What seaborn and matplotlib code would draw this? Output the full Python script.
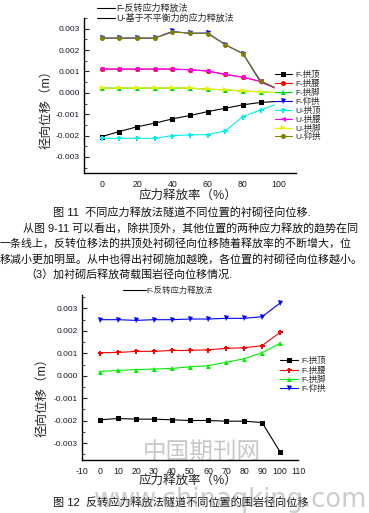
import matplotlib
matplotlib.use('Agg')
import numpy as np
import pandas as pd
import matplotlib.pyplot as plt
import matplotlib.ticker as ticker
from matplotlib.lines import Line2D
import seaborn as sns

# release rate (%)
rate = [0, 10, 20, 30, 40, 50, 60, 70, 80, 90, 100]

# Fig 11: lining radial displacement (m), two release methods
f_crown_11 = [-0.00205, -0.00181, -0.00159, -0.00142, -0.00122, -0.00106, -0.00088, -0.00072, -0.00056, -0.00045, -0.00040]
f_haunch_11 = [0.00111, 0.00111, 0.00111, 0.00111, 0.00111, 0.00108, 0.00102, 0.00086, 0.00073, 0.00053, 0.00017]
f_foot_11 = [0.00022, 0.00022, 0.00022, 0.00022, 0.00022, 0.00022, 0.00017, 0.00014, 0.00008, 0.00005, 0.00000]
f_invert_11 = [0.00256, 0.00256, 0.00256, 0.00256, 0.00287, 0.00278, 0.00280, 0.00225, 0.00183, 0.00050, 0.00017]
u_crown_11 = [-0.00213, -0.00213, -0.00213, -0.00213, -0.00200, -0.00197, -0.00195, -0.00178, -0.00111, -0.00080, -0.00050]
u_haunch_11 = [0.00111, 0.00111, 0.00111, 0.00111, 0.00111, 0.00108, 0.00102, 0.00086, 0.00073, 0.00053, 0.00017]
u_foot_11 = [0.00022, 0.00022, 0.00022, 0.00022, 0.00022, 0.00022, 0.00017, 0.00014, 0.00008, 0.00005, 0.00000]
u_invert_11 = [0.00256, 0.00256, 0.00256, 0.00256, 0.00284, 0.00280, 0.00277, 0.00225, 0.00183, 0.00056, 0.00017]

# Fig 12: surrounding rock radial displacement (m), reverse release method
f_crown_12 = [-0.00196, -0.00190, -0.00193, -0.00193, -0.00196, -0.00199, -0.00199, -0.00202, -0.00202, -0.00208, -0.00338]
f_haunch_12 = [0.00103, 0.00104, 0.00109, 0.00109, 0.00113, 0.00113, 0.00116, 0.00122, 0.00125, 0.00134, 0.00193]
f_foot_12 = [0.00019, 0.00024, 0.00028, 0.00030, 0.00033, 0.00040, 0.00045, 0.00060, 0.00076, 0.00103, 0.00144]
f_invert_12 = [0.00250, 0.00250, 0.00247, 0.00250, 0.00250, 0.00253, 0.00253, 0.00256, 0.00256, 0.00263, 0.00324]

labels_11 = ['F-拱顶', 'F-拱腰', 'F-拱脚', 'F-仰拱', 'U-拱顶', 'U-拱腰', 'U-拱脚', 'U-仰拱']
values_11 = [f_crown_11, f_haunch_11, f_foot_11, f_invert_11, u_crown_11, u_haunch_11, u_foot_11, u_invert_11]
colors_11 = ['#000000', '#ff0000', '#00dd00', '#0000ff', '#00f0f0', '#ff00ff', '#f0f000', '#808000']
markers_11 = ['s', 'o', '^', 'v', 'P', '<', '>', 'o']

labels_12 = ['F-拱顶', 'F-拱腰', 'F-拱脚', 'F-仰拱']
values_12 = [f_crown_12, f_haunch_12, f_foot_12, f_invert_12]
colors_12 = ['#000000', '#ff0000', '#00ee00', '#0000ff']
markers_12 = ['s', 'P', '^', 'v']

methods_11 = ['F-反转应力释放法', 'U-基于不平衡力的应力释放法']
methods_12 = ['F-反转应力释放法']

sns.set_style('white')
plt.rcParams['font.family'] = ['Liberation Sans', 'Noto Sans CJK SC', 'DejaVu Sans']
plt.rcParams['axes.unicode_minus'] = False

W, H = 369, 513
fig = plt.figure(figsize=(W / 100, H / 100), dpi=100)


def fx(px):
    return px / W


def fy(py):
    return 1 - py / H


def draw_panel(ax, labels, values, colors, markers, ylim, xticks):
    df = pd.DataFrame({
        'rate': np.tile(rate, len(labels)),
        'disp': np.concatenate(values),
        'series': np.repeat(labels, len(rate)),
    })
    sns.lineplot(data=df, x='rate', y='disp', hue='series', style='series',
                 hue_order=labels, style_order=labels,
                 palette=dict(zip(labels, colors)), markers=dict(zip(labels, markers)),
                 dashes=False, markersize=3.6, markeredgewidth=0, linewidth=0.8,
                 legend=False, sort=False, ax=ax)
    ax.set_facecolor('none')
    ax.set_xlim(-10, 110)
    ax.set_ylim(*ylim)
    ax.set_xticks(xticks)
    ax.set_yticks(np.arange(-0.003, 0.0031, 0.001))
    ax.yaxis.set_minor_locator(ticker.MultipleLocator(0.0005))
    ax.yaxis.set_major_formatter(ticker.FormatStrFormatter('%.3f'))
    for side in ['top', 'right']:
        ax.spines[side].set_visible(False)
    for side in ['left', 'bottom']:
        ax.spines[side].set_color('black')
        ax.spines[side].set_linewidth(1.0)
    ax.tick_params(axis='y', which='major', direction='in', length=3.5, width=0.8,
                   labelsize=6, pad=3, labelcolor='#1a1a2a', left=True)
    ax.tick_params(axis='y', which='minor', direction='in', length=2, width=0.6, left=True)
    ax.tick_params(axis='x', length=0, labelsize=6.3, pad=5, labelcolor='#1a1a2a')
    ax.set_xlabel('')
    ax.set_ylabel('')
    return ax.get_lines()[:len(labels)]


# ---- Figure 11 ----
ax1 = fig.add_axes([fx(84), fy(173), (296 - 84) / W, (173 - 18) / H])
h1 = draw_panel(ax1, labels_11, values_11, colors_11, markers_11,
                (-0.00375, 0.0035), [0, 20, 40, 60, 80, 100])
ax1.set_ylabel('径向位移（m）', fontsize=9)
ax1.yaxis.set_label_coords(-0.15, 0.43)
ax1.set_xlabel('应力释放率（%）', fontsize=9)
ax1.xaxis.set_label_coords(0.49, -0.105)
leg = ax1.legend(h1, labels_11, loc='upper left', bbox_to_anchor=(fx(275), fy(71)),
                 bbox_transform=fig.transFigure, fontsize=6, frameon=True, borderpad=0,
                 borderaxespad=0, handlelength=2.0, handletextpad=0.4, labelspacing=0.1)
leg.get_frame().set_facecolor('white')
leg.get_frame().set_edgecolor('none')
leg.get_frame().set_alpha(1)
m_handles = [Line2D([], [], color='black', lw=0.8) for _ in methods_11]
fig.legend(m_handles, methods_11, loc='upper left', bbox_to_anchor=(fx(97), fy(4)),
           fontsize=6.5, frameon=False, borderpad=0, borderaxespad=0,
           handlelength=2.0, handletextpad=0.1, labelspacing=0.05)

# ---- caption and paragraph ----
fig.text(fx(53), fy(212), '图 11  不同应力释放法隧道不同位置的衬砌径向位移.', fontsize=8,
         va='center', ha='left', color='#111111')
para = [
    (23, 228, '从图 9-11 可以看出，除拱顶外，其他位置的两种应力释放的趋势在同'),
    (0, 243, '一条线上，反转位移法的拱顶处衬砌径向位移随着释放率的不断增大，位'),
    (0, 259, '移减小更加明显。从中也得出衬砌施加越晚，各位置的衬砌径向位移越小。'),
    (25, 274, '（3）加衬砌后释放荷载围岩径向位移情况.'),
]
for x, y, s in para:
    fig.text(fx(x), fy(y), s, fontsize=7.9, va='center', ha='left', color='#111111')

# ---- Figure 12 ----
ax2 = fig.add_axes([fx(82), fy(460), (298 - 82) / W, (460 - 295) / H])
h2 = draw_panel(ax2, labels_12, values_12, colors_12, markers_12,
                (-0.00375, 0.0036), list(range(-10, 111, 10)))
ax2.set_ylabel('径向位移（m）', fontsize=9)
ax2.yaxis.set_label_coords(-0.155, 0.40)
ax2.set_xlabel('应力释放率（%）', fontsize=9)
ax2.xaxis.set_label_coords(0.49, -0.09)
ax2.legend(h2, labels_12, loc='upper left', bbox_to_anchor=(fx(280), fy(357)),
           bbox_transform=fig.transFigure, fontsize=6, frameon=False, borderpad=0,
           borderaxespad=0, handlelength=2.2, handletextpad=0.4, labelspacing=0.15)
m2 = [Line2D([], [], color='black', lw=0.8)]
fig.legend(m2, methods_12, loc='upper left', bbox_to_anchor=(fx(123), fy(286)),
           fontsize=6, frameon=False, borderpad=0, borderaxespad=0,
           handlelength=2.8, handletextpad=0.05)

fig.text(fx(53), fy(502), '图 12  反转应力释放法隧道不同位置的围岩径向位移', fontsize=8,
         va='center', ha='left', color='#111111')

# watermarks
fig.text(fx(143), fy(452), '中国期刊网', fontsize=17, va='center', ha='left',
         color='#c8c8c8', zorder=-1, family=['Noto Sans CJK SC'])
fig.text(fx(367), fy(500), 'www.chinaqking.com', fontsize=18.5, va='center', ha='right',
         color='#9a9a9a', alpha=0.5, zorder=5, family=['DejaVu Sans'])

fig.savefig('out.png', dpi=100)
